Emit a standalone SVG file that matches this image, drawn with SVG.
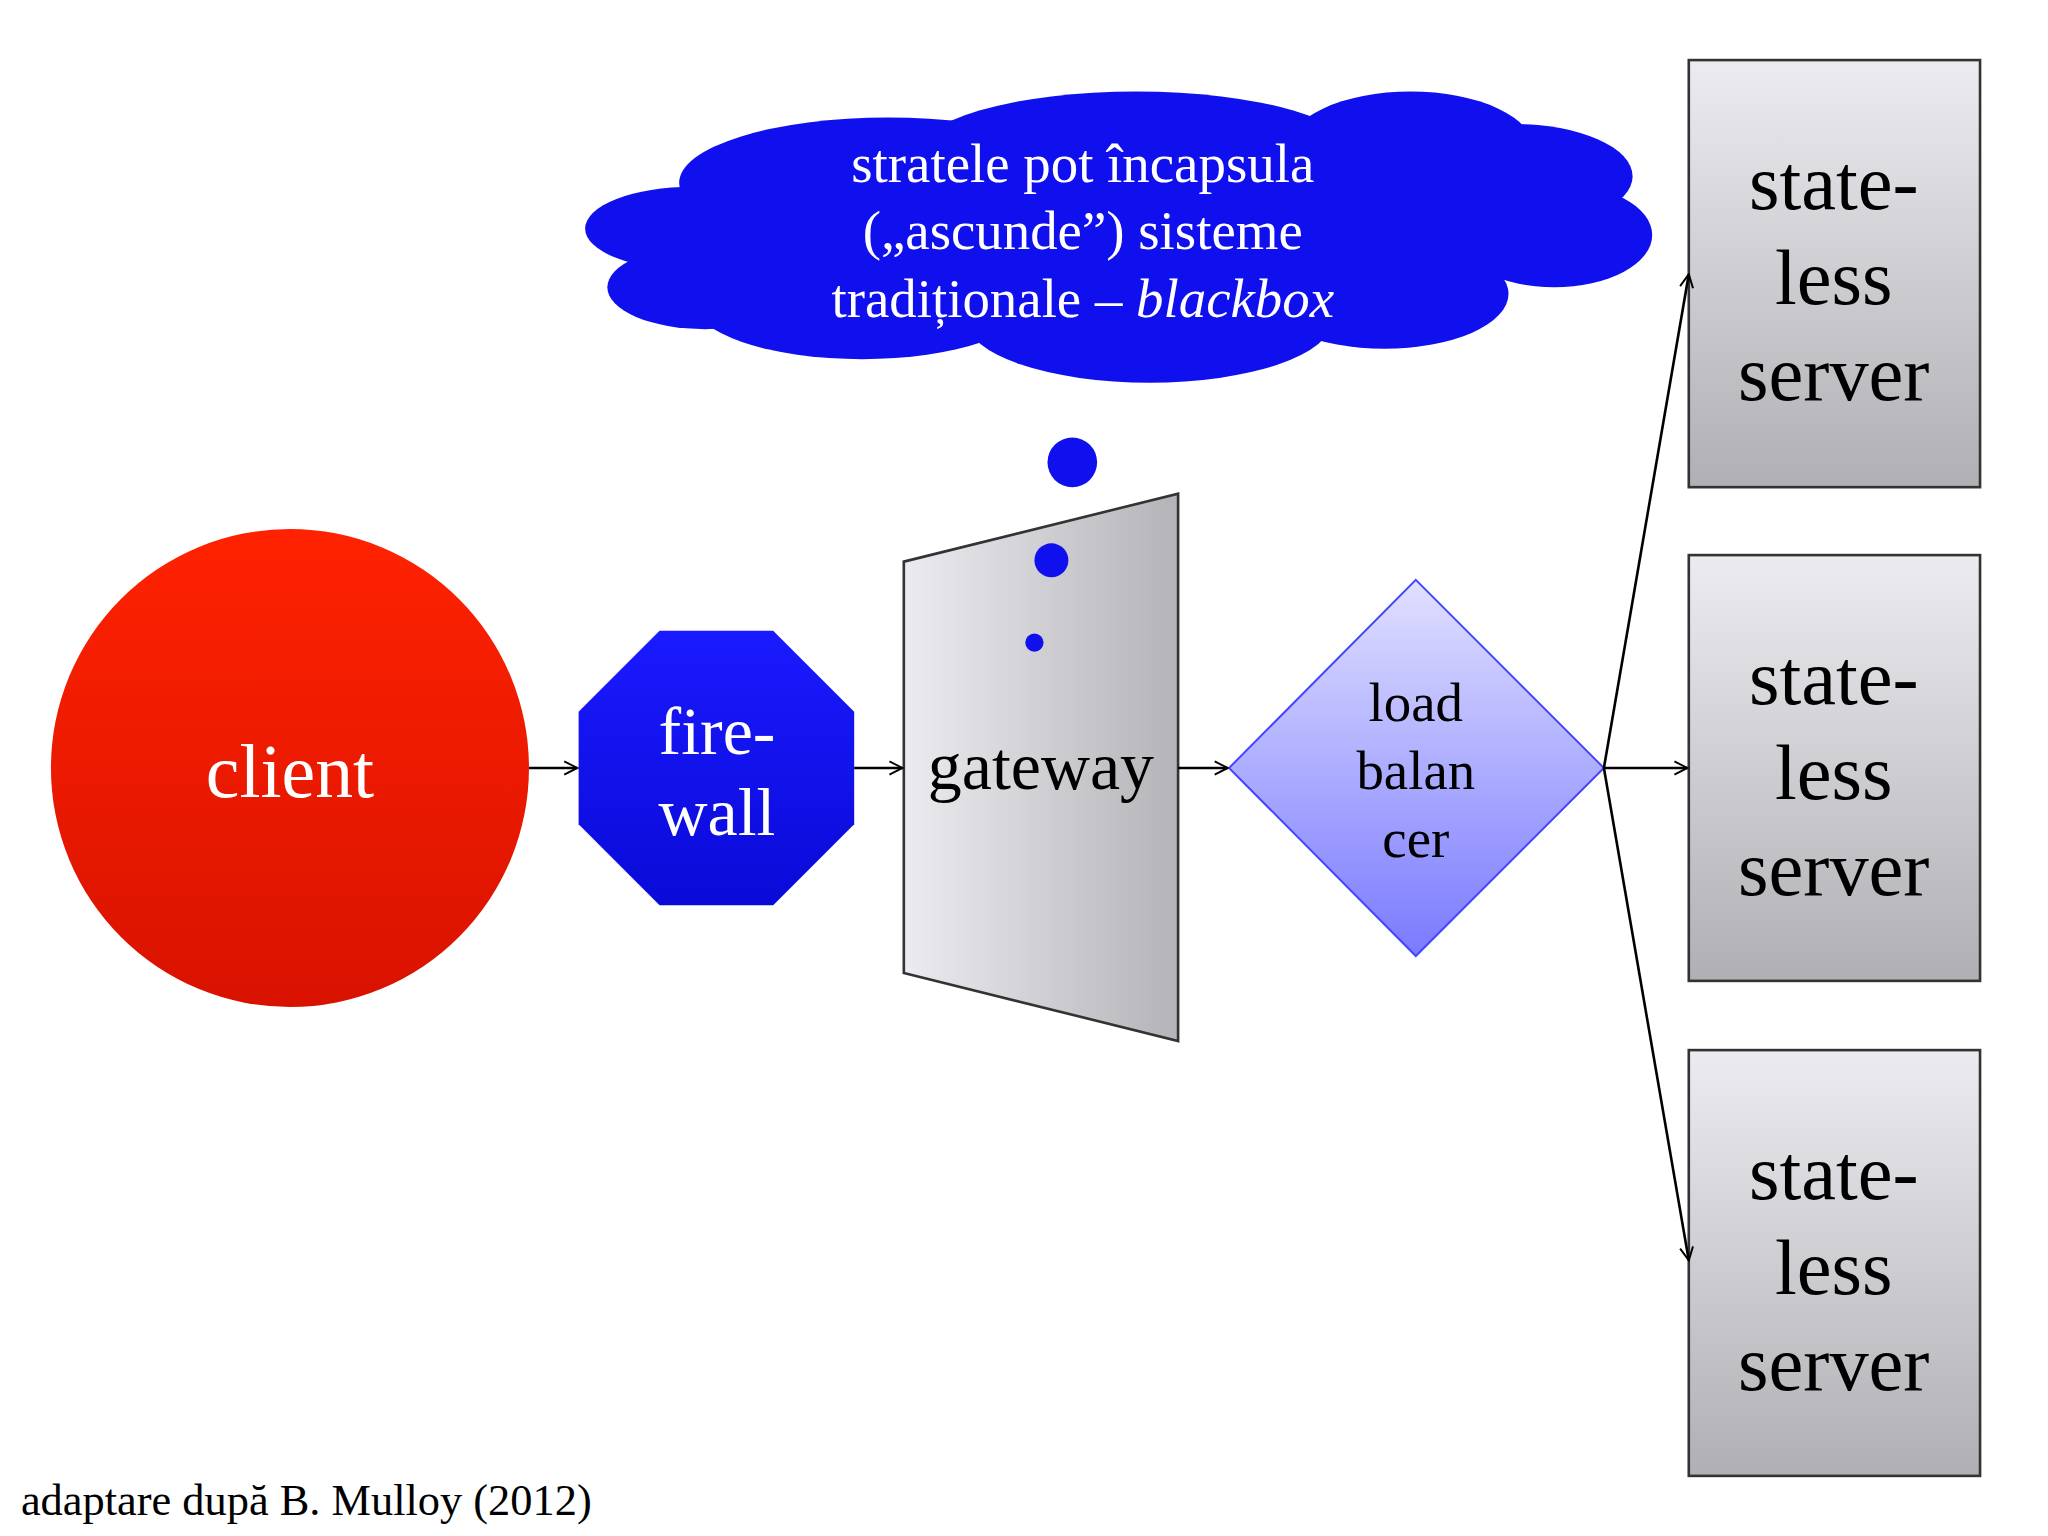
<svg xmlns="http://www.w3.org/2000/svg" width="2048" height="1536" viewBox="0 0 2048 1536">
<defs>
<linearGradient id="red" x1="0" y1="0" x2="0" y2="1"><stop offset="0" stop-color="#ff2200"/><stop offset="1" stop-color="#d81200"/></linearGradient>
<linearGradient id="blue" x1="0" y1="0" x2="0" y2="1"><stop offset="0" stop-color="#1a1aff"/><stop offset="1" stop-color="#0a0ad8"/></linearGradient>
<linearGradient id="grayh" x1="0" y1="0" x2="1" y2="0"><stop offset="0" stop-color="#ececf0"/><stop offset="1" stop-color="#b4b4b8"/></linearGradient>
<linearGradient id="grayv" x1="0" y1="0" x2="0" y2="1"><stop offset="0" stop-color="#ececf0"/><stop offset="1" stop-color="#b0b0b4"/></linearGradient>
<linearGradient id="lav" x1="0" y1="0" x2="0" y2="1"><stop offset="0" stop-color="#e0e0ff"/><stop offset="1" stop-color="#7a7aff"/></linearGradient>
<marker id="arr" viewBox="0 0 12 12" refX="11" refY="6" markerWidth="12" markerHeight="12" markerUnits="userSpaceOnUse" orient="auto"><path d="M1,1 L11,6 L1,11" fill="none" stroke="#000" stroke-width="1.5"/></marker>
</defs>
<style>
text{font-family:"Liberation Serif","DejaVu Serif",serif;text-anchor:middle}
.w{fill:#fff}
.k{fill:#000}
.srv{fill:url(#grayv);stroke:#333;stroke-width:2}
.c{stroke:#000;stroke-width:2;fill:none;marker-end:url(#arr)}
</style>
<rect width="2048" height="1536" fill="#fff"/>
<g transform="scale(1.3061)">
<g id="cloud" fill="#1010ee">
<ellipse cx="680" cy="140" rx="160" ry="50"/><ellipse cx="870" cy="120" rx="170" ry="50"/><ellipse cx="1080" cy="115" rx="95" ry="45"/>
<ellipse cx="1160" cy="135" rx="90" ry="40"/><ellipse cx="1190" cy="180" rx="75" ry="40"/><ellipse cx="1060" cy="225" rx="95" ry="42"/>
<ellipse cx="880" cy="245" rx="140" ry="48"/><ellipse cx="660" cy="230" rx="130" ry="45"/><ellipse cx="540" cy="220" rx="75" ry="32"/>
<ellipse cx="530" cy="175" rx="82" ry="32"/><ellipse cx="830" cy="180" rx="320" ry="70"/>
<text class="w" font-size="42" x="829" y="139">stratele pot încapsula</text>
<text class="w" font-size="42" x="829" y="191">(„ascunde”) sisteme</text>
<text class="w" font-size="42" x="829" y="243">tradiționale – <tspan font-style="italic">blackbox</tspan></text>
</g>
<g id="client"><circle cx="222" cy="588" r="183" fill="url(#red)"/><text class="w" font-size="58" x="222" y="610">client</text></g>
<g id="firewall"><polygon points="505,483 592,483 654,545 654,631 592,693 505,693 443,631 443,545" fill="url(#blue)"/>
<text class="w" font-size="52" x="549" y="577">fire-</text><text class="w" font-size="52" x="549" y="639">wall</text></g>
<g id="gateway"><polygon points="692,430 902,378 902,797 692,745" fill="url(#grayh)" stroke="#333" stroke-width="2"/>
<text class="k" font-size="52" x="797" y="604">gateway</text></g>
<g id="bubbles" fill="#1010ee"><circle cx="821" cy="354" r="19"/><circle cx="805" cy="429" r="13"/><circle cx="792" cy="492" r="7"/></g>
<g id="lb"><polygon points="1084,444 1228,588 1084,732 941,588" fill="url(#lav)" stroke="#4444ff" stroke-width="1.5"/>
<text class="k" font-size="42" x="1084" y="552">load</text><text class="k" font-size="42" x="1084" y="604">balan</text><text class="k" font-size="42" x="1084" y="656">cer</text></g>
<g id="server1"><rect class="srv" x="1293" y="46" width="223" height="327"/>
<text class="k" font-size="60" x="1404" y="160">state-</text><text class="k" font-size="60" x="1404" y="233">less</text><text class="k" font-size="60" x="1404" y="306">server</text></g>
<g id="server2"><rect class="srv" x="1293" y="425" width="223" height="326"/>
<text class="k" font-size="60" x="1404" y="539">state-</text><text class="k" font-size="60" x="1404" y="612">less</text><text class="k" font-size="60" x="1404" y="685">server</text></g>
<g id="server3"><rect class="srv" x="1293" y="804" width="223" height="326"/>
<text class="k" font-size="60" x="1404" y="918">state-</text><text class="k" font-size="60" x="1404" y="991">less</text><text class="k" font-size="60" x="1404" y="1064">server</text></g>
<g id="connectors">
<line class="c" x1="405" y1="588" x2="442" y2="588"/>
<line class="c" x1="654" y1="588" x2="691" y2="588"/>
<line class="c" x1="902" y1="588" x2="940" y2="588"/>
<line class="c" x1="1228" y1="588" x2="1292" y2="588"/>
<line class="c" x1="1228" y1="588" x2="1293" y2="210"/>
<line class="c" x1="1228" y1="588" x2="1293" y2="965"/>
</g>
<text class="k" font-size="34" x="16" y="1160" style="text-anchor:start">adaptare după B. Mulloy (2012)</text>
</g>
</svg>
